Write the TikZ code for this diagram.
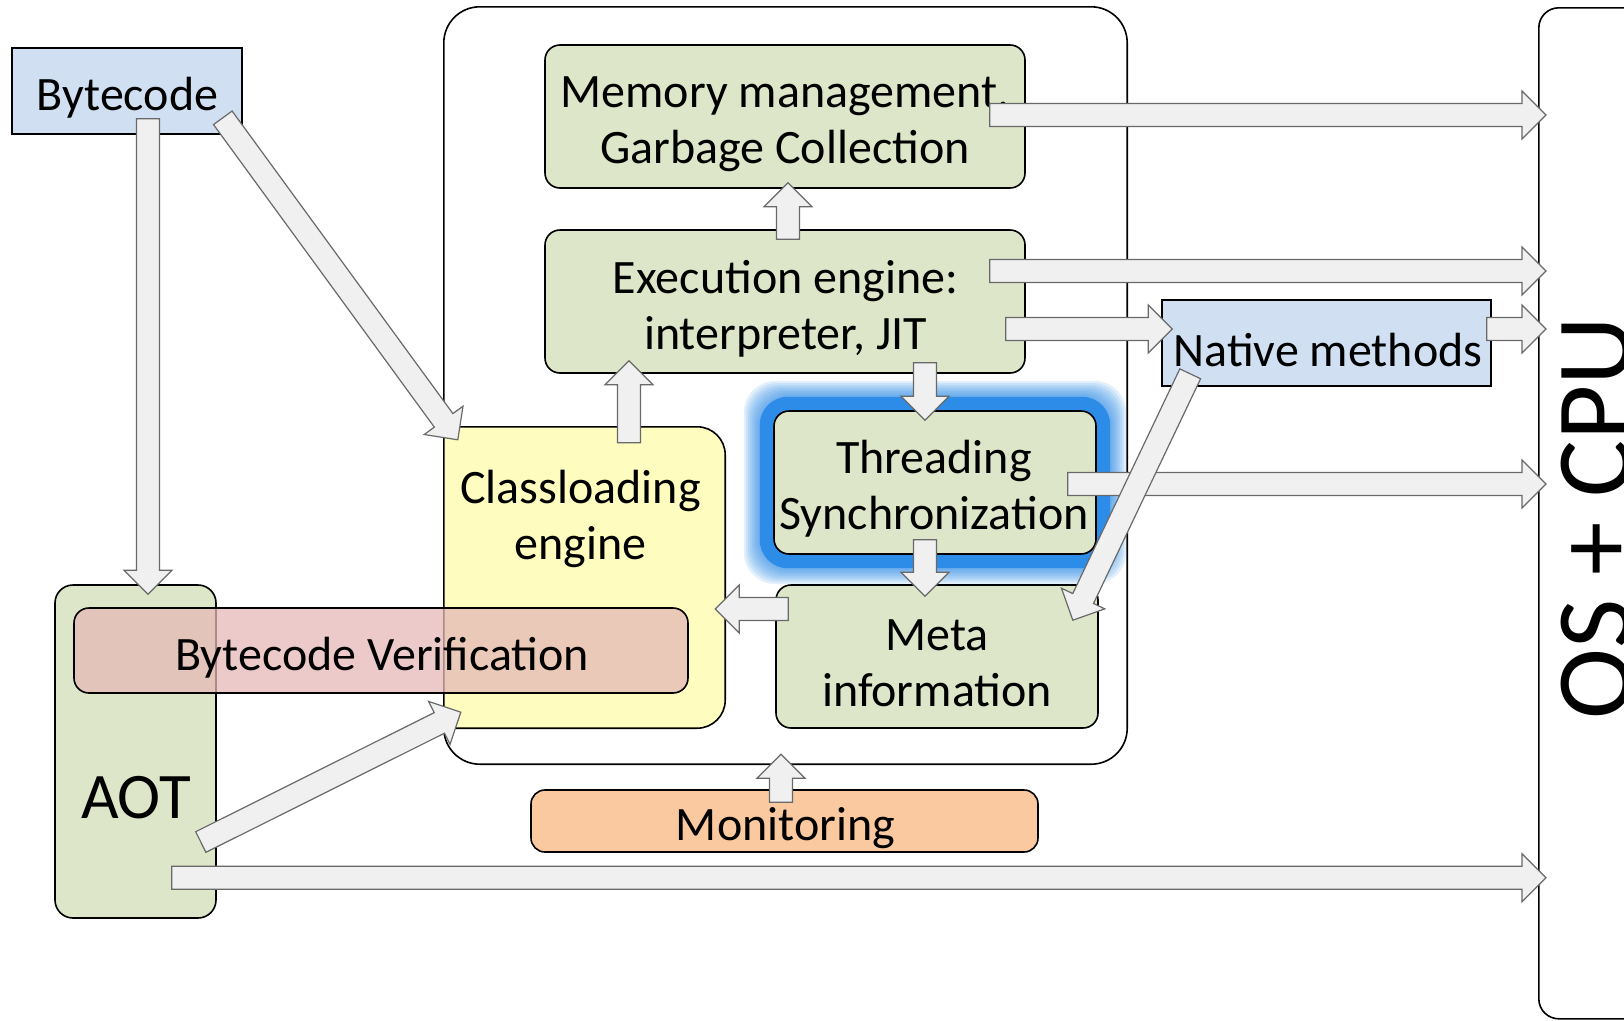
\documentclass[tikz,border=0pt]{standalone}
\usepackage{fontspec}
\setmainfont{Carlito}
\usetikzlibrary{calc}
\definecolor{boxgreen}{RGB}{221,230,200}
\definecolor{boxyellow}{RGB}{255,252,191}
\definecolor{boxblue}{RGB}{208,224,242}
\definecolor{boxpink}{RGB}{229,185,183}
\definecolor{boxorange}{RGB}{250,201,159}
\definecolor{glowblue}{RGB}{45,140,232}
\definecolor{arrfill}{RGB}{240,240,240}
\definecolor{arrline}{RGB}{105,105,105}
\newcommand\blk[2]{%
\filldraw[blkarrow] let \p1=#1, \p2=#2, \n1={atan2(\y2-\y1,\x2-\x1)}, \n2={veclen(\x2-\x1,\y2-\y1)-24} in
 ($(\p1)+({\n1+90}:11.5pt)$) -- ++(\n1:\n2) -- ++({\n1+90}:12.5pt) -- (\p2)
 -- ($(\p1)+(\n1:\n2)+({\n1-90}:24pt)$) -- ++({\n1+90}:12.5pt) -- ($(\p1)+({\n1-90}:11.5pt)$) -- cycle;}
\begin{document}
\begin{tikzpicture}[x=1pt,y=-1pt,
  lbl/.style={font=\fontsize{48}{56}\selectfont, align=center, inner sep=0pt},
  box/.style={draw=black, line width=1.6pt, inner sep=0pt},
  gbox/.style={box, fill=boxgreen, rounded corners=15pt},
  blkarrow/.style={fill=arrfill, draw=arrline, line width=1.2pt, line join=miter}]
\fill[white] (0,0) rectangle (1624,1020);
\useasboundingbox (0,0) rectangle (1624,1020);

% OS + CPU
\node[box, rounded corners=20pt, minimum width=200pt, minimum height=1011pt, anchor=north west] (os) at (1538,7) {};
\node[rotate=90, font=\fontsize{107}{120}\selectfont, inner sep=0pt] (ostext) at (1596,518) {OS + CPU};

% container
\node[minimum width=683pt, minimum height=757pt, inner sep=0pt] (cont) at (785.5,385.5) {};

% Classloading
\node[minimum width=281pt, minimum height=301pt, inner sep=0pt] (class) at (584.5,577.5) {};
\filldraw[fill=boxyellow, draw=black, line width=1.6pt, rounded corners=28pt]
  (class.north west) -- (class.north east) -- (class.south east) -- (class.south west);
\draw[line width=1.6pt, rounded corners=36pt] (cont.north west) rectangle (cont.south east);

% AOT
\node[box, fill=boxgreen, rounded corners=18pt, minimum width=161pt, minimum height=333pt] (aot) at (135.5,751.5) {};

% Bytecode Verification
\node[box, fill=boxpink, fill opacity=0.75, rounded corners=15pt, minimum width=614pt, minimum height=85pt] (verif) at (381,650.5) {};

% Bytecode
\node[box, fill=boxblue, minimum width=230pt, minimum height=86pt] (byte) at (127,91) {};

% engine boxes
\node[gbox, minimum width=480pt, minimum height=143pt] (mem) at (785,116.5) {};
\node[gbox, minimum width=480pt, minimum height=143pt] (exec) at (785,301.5) {};
\node[gbox, minimum width=322pt, minimum height=143pt] (meta) at (937,656.5) {};

% glow + threading
\node[minimum width=322pt, minimum height=143pt, inner sep=0pt] (threadpos) at (935,482.5) {};
\foreach \k in {30,28,26,24,22,20,18,16}
  \fill[glowblue, opacity=0.13, rounded corners=32pt] ($(threadpos.north west)+(-\k,-\k)$) rectangle ($(threadpos.south east)+(\k,\k)$);
\fill[glowblue, rounded corners=28pt] ($(threadpos.north west)+(-14,-14)$) rectangle ($(threadpos.south east)+(14,14)$);
\node[gbox, minimum width=322pt, minimum height=143pt] (thread) at (935,482.5) {};

% Native methods
\node[box, fill=boxblue, minimum width=329pt, minimum height=86pt] (native) at (1326.5,343) {};

% Monitoring
\node[box, fill=boxorange, rounded corners=14pt, minimum width=507pt, minimum height=62pt] (mon) at (784.5,821) {};

% texts
\node[lbl] (bytet) at (127.5,98) {Bytecode};
\node[lbl] (memt) at (785,124) {Memory management,\\Garbage Collection};
\node[lbl] (exect) at (785.5,308.5) {Execution engine:\\interpreter, JIT};
\node[lbl] (threadt) at (934,489) {Threading\\Synchronization};
\node[lbl] (metat) at (937,663) {Meta\\information};
\node[lbl] (classt) at (580.5,519) {Classloading\\engine};
\node[lbl] (verift) at (382,658) {Bytecode Verification};
\node[lbl] (nativet) at (1328,350) {Native methods};
\node[lbl] (mont) at (785.5,828) {Monitoring};
\node[lbl, font=\fontsize{65}{72}\selectfont] (aott) at (136,798) {AOT};

% arrows
\blk{($(byte.south)+(21,-16)$)}{($(aot.north)+(12.5,10)$)}
\blk{($(byte.south east)+(-20,-17)$)}{($(class.north west)+(14,13)$)}
\blk{($(mem.east)+(-36,-1.5)$)}{($(os.west |- mem.east)+(8,-1.5)$)}
\blk{($(exec.east)+(-36,-30.5)$)}{($(os.west |- exec.east)+(8,-30.5)$)}
\blk{($(native.east)+(-5,-14)$)}{($(os.west |- native.east)+(8,-14)$)}
\blk{($(thread.east)+(-29,1.5)$)}{($(os.west |- thread.east)+(8,1.5)$)}
\blk{($(aot.south east)+(-45,-41)$)}{($(os.west |- aot.south east)+(8,-41)$)}
\blk{($(exec.east)+(-20,27.5)$)}{($(native.west)+(11,-14)$)}
\blk{($(native.south west)+(29,-13)$)}{($(meta.north east)+(-26,36)$)}
\blk{($(exec.south)+(140,-11)$)}{($(thread.north)+(-10,10)$)}
\blk{($(thread.south)+(-10,-15)$)}{($(meta.north)+(-12,12)$)}
\blk{($(meta.west)+(13,-47.5)$)}{($(class.east)+(-10,31.5)$)}
\blk{($(class.north)+(44.5,16)$)}{($(exec.south)+(-156,-13)$)}
\blk{($(exec.north)+(3,10)$)}{($(mem.south)+(3,-6)$)}
\blk{($(mon.north)+(-3.5,13)$)}{($(cont.south)+(-4.5,-10)$)}
\blk{($(aot.east)+(-16,90.5)$)}{($(class.south west)+(17,-16)$)}
\end{tikzpicture}
\end{document}
